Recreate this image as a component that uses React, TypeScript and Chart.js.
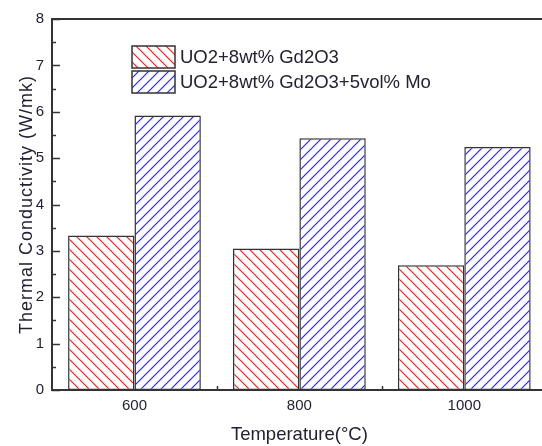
import React, { useEffect, useRef } from 'react';
import { Chart, registerables } from 'chart.js';

Chart.register(...registerables);

const categories = ['600', '800', '1000'];
const seriesNames = ['UO2+8wt% Gd2O3', 'UO2+8wt% Gd2O3+5vol% Mo'];
const gdValues = [3.33, 3.05, 2.69];
const moValues = [5.92, 5.43, 5.24];
const yMin = 0;
const yMax = 8;
const yStep = 1;
const xTitle = 'Temperature(°C)';
const yTitle = 'Thermal Conductivity (W/mk)';

const FONT = "'Liberation Sans', Arial, sans-serif";
const AXIS = '#333333';
const TEXT = '#222233';

function makeHatch(color: string, dir: 'back' | 'fwd'): CanvasPattern | string {
  const s = 10;
  const c = document.createElement('canvas');
  c.width = s;
  c.height = s;
  const g = c.getContext('2d');
  if (!g) return color;
  g.fillStyle = '#ffffff';
  g.fillRect(0, 0, s, s);
  g.strokeStyle = color;
  g.lineWidth = 1.2;
  g.beginPath();
  if (dir === 'back') {
    g.moveTo(-1, -1); g.lineTo(s + 1, s + 1);
    g.moveTo(-1, s - 1); g.lineTo(1, s + 1);
    g.moveTo(s - 1, -1); g.lineTo(s + 1, 1);
  } else {
    g.moveTo(-1, s + 1); g.lineTo(s + 1, -1);
    g.moveTo(-1, 1); g.lineTo(1, -1);
    g.moveTo(s - 1, s + 1); g.lineTo(s + 1, s - 1);
  }
  g.stroke();
  const p = g.createPattern(c, 'repeat');
  return p || color;
}

const axesPlugin = {
  id: 'axesBox',
  afterDatasetsDraw(chart: any) {
    const { ctx, chartArea, scales } = chart;
    const { left, right, top, bottom } = chartArea;
    const x = scales.x;
    const y = scales.y;
    ctx.save();
    ctx.strokeStyle = AXIS;
    ctx.lineWidth = 1.5;
    for (let v = yMin; v <= yMax + 1e-9; v += yStep / 2) {
      const py = Math.round(y.getPixelForValue(v)) + 0.5;
      const major = Math.abs(v - Math.round(v)) < 1e-9;
      const len = major ? 8 : 4;
      ctx.beginPath();
      ctx.moveTo(left, py);
      ctx.lineTo(left + len, py);
      ctx.stroke();
    }
    const n = categories.length;
    for (let i = 0; i < n - 1; i++) {
      const px = (x.getPixelForValue(i) + x.getPixelForValue(i + 1)) / 2;
      ctx.beginPath();
      ctx.moveTo(Math.round(px) + 0.5, bottom);
      ctx.lineTo(Math.round(px) + 0.5, bottom - 4);
      ctx.stroke();
    }
    ctx.lineWidth = 2;
    ctx.strokeRect(left, top, right - left, bottom - top);

    ctx.save();
    ctx.translate(27, (top + bottom) / 2);
    ctx.rotate(-Math.PI / 2);
    ctx.font = `18px ${FONT}`;
    (ctx as any).letterSpacing = '1px';
    ctx.textAlign = 'center';
    ctx.textBaseline = 'middle';
    ctx.fillStyle = TEXT;
    ctx.fillText(yTitle, 0, 0);
    ctx.restore();
    ctx.restore();
  },
};

const legendPlugin = {
  id: 'insideLegend',
  afterDraw(chart: any) {
    const { ctx, chartArea } = chart;
    const bx = chartArea.left + 80;
    let by = chartArea.top + 27;
    const bw = 43;
    const bh = 22;
    const gap = 25;
    ctx.save();
    ctx.font = `18.5px ${FONT}`;
    ctx.textBaseline = 'middle';
    ctx.textAlign = 'left';
    chart.data.datasets.forEach((ds: any) => {
      ctx.fillStyle = ds.backgroundColor;
      ctx.fillRect(bx, by, bw, bh);
      ctx.strokeStyle = AXIS;
      ctx.lineWidth = 1.5;
      ctx.strokeRect(bx, by, bw, bh);
      ctx.fillStyle = TEXT;
      ctx.fillText(ds.label, bx + bw + 5, by + bh / 2 + 1);
      by += gap;
    });
    ctx.restore();
  },
};

export default function App() {
  const ref = useRef<HTMLCanvasElement>(null);
  useEffect(() => {
    const canvas = ref.current;
    if (!canvas) return;
    const redHatch = makeHatch('rgb(255, 30, 30)', 'back');
    const blueHatch = makeHatch('rgb(40, 40, 255)', 'fwd');
    const chart = new Chart(canvas, {
      type: 'bar',
      data: {
        labels: categories,
        datasets: [
          {
            label: seriesNames[0],
            data: gdValues,
            backgroundColor: redHatch as any,
            borderColor: AXIS,
            borderWidth: 1.5,
            borderSkipped: false,
            categoryPercentage: 0.805,
            barPercentage: 1.0,
          },
          {
            label: seriesNames[1],
            data: moValues,
            backgroundColor: blueHatch as any,
            borderColor: AXIS,
            borderWidth: 1.5,
            borderSkipped: false,
            categoryPercentage: 0.805,
            barPercentage: 1.0,
          },
        ],
      },
      options: {
        responsive: false,
        animation: false,
        layout: { padding: { left: 0, right: 1.25, top: 19, bottom: 0 } },
        plugins: {
          legend: { display: false },
          tooltip: { enabled: false },
          title: { display: false },
        },
        scales: {
          x: {
            grid: { display: false, drawTicks: false },
            border: { display: false },
            ticks: { color: TEXT, font: { family: FONT, size: 15 }, padding: 7 },
            title: {
              display: true,
              text: xTitle,
              color: TEXT,
              font: { family: FONT, size: 18.5 },
              padding: { top: 0, bottom: 0 },
            },
            afterFit(scale: any) {
              scale.height = 56;
            },
          },
          y: {
            min: yMin,
            max: yMax,
            grid: { display: false, drawTicks: false },
            border: { display: false },
            ticks: { stepSize: yStep, color: TEXT, font: { family: FONT, size: 15 }, padding: 8 },
            title: { display: false },
            afterFit(scale: any) {
              scale.width = 52;
            },
          },
        },
      },
      plugins: [axesPlugin, legendPlugin],
    });
    return () => chart.destroy();
  }, []);
  return (
    <div style={{ position: 'fixed', left: 0, top: 0, width: 542, height: 446, overflow: 'hidden', background: '#fff' }}>
      <canvas ref={ref} width={548} height={446} style={{ display: 'block' }} />
    </div>
  );
}
